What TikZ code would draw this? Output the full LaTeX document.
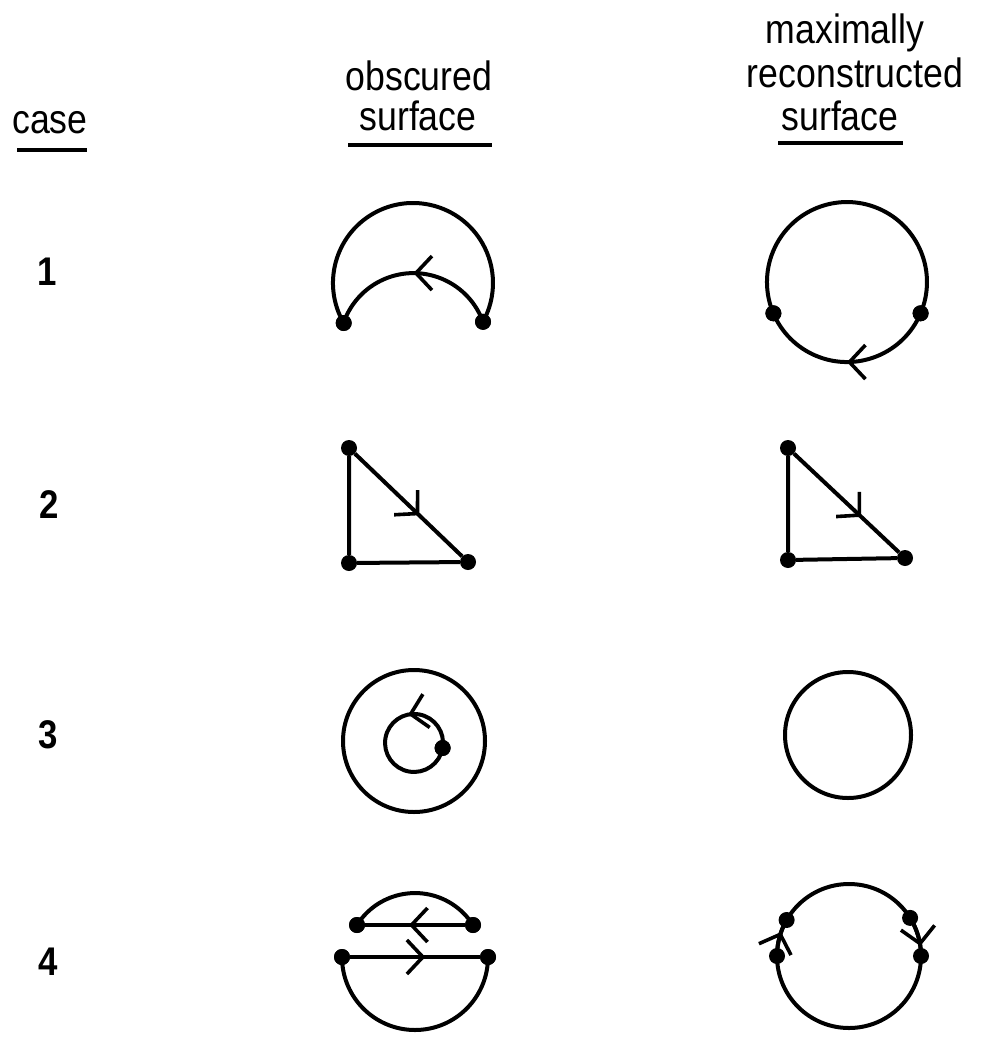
\documentclass[tikz,border=0pt]{standalone}
\usepackage{fontspec}
\setmainfont{Liberation Sans}[FakeStretch=0.87]
\usetikzlibrary{arrows.meta,decorations.markings}
\begin{document}
\begin{tikzpicture}[x=1pt,y=-1pt,
  every node/.style={font=\fontsize{41}{40}\selectfont},
  ln/.style={line width=4pt},
  blob/.style={circle,fill=black,inner sep=0pt,minimum size=16pt},
  hdr/.style={anchor=base,inner sep=0pt},
  num/.style={font=\fontsize{40}{40}\selectfont\bfseries},
  uline/.style={line width=3.6pt},
  midarrow/.style={postaction={decorate,decoration={markings,mark=at position #1 with {\arrow[line width=3.6pt]{Straight Barb[length=16pt,width=34pt]}}}}}
]
\useasboundingbox (0,0) rectangle (983,1041);

% headers
\node[hdr] (case) at (50,133) {case};
\node[hdr] (obs1) at (419,90) {obscured};
\node[hdr] (obs2) at (418,130) {surface};
\node[hdr] (rec1) at (845,44) {maximally};
\node[hdr] (rec2) at (855,88) {reconstructed};
\node[hdr] (rec3) at (840,130) {surface};
\draw[uline] (17,150) -- (87,150);
\draw[uline] (348,145) -- (492,145);
\draw[uline] (778,143) -- (903,143);

% row numbers
\node[num] (n1) at (47,272) {1};
\node[num] (n2) at (49,505) {2};
\node[num] (n3) at (48,735) {3};
\node[num] (n4) at (48,962) {4};

% case 1, obscured
\node[blob] (p1a) at (343.7,323) {};
\node[blob] (p1b) at (483,321.8) {};
\draw[ln] (p1a.center) arc[start angle=150, end angle=389, radius=80];
\draw[ln,midarrow=0.5] (p1b.center) arc[start angle=-20, end angle=-160, radius=74];
\node[blob] at (p1a) {};
\node[blob] at (p1b) {};

% case 1, reconstructed
\node[blob] (q1a) at (773.4,313.3) {};
\node[blob] (q1b) at (920.6,313.3) {};
\draw[ln] (q1b.center) arc[start angle=23, end angle=-203, radius=80];
\draw[ln,midarrow=0.5] (q1b.center) arc[start angle=23, end angle=157, radius=80];
\node[blob] at (q1a) {};
\node[blob] at (q1b) {};

% case 2, obscured
\node[blob] (p2a) at (349,448) {};
\node[blob] (p2b) at (349,563) {};
\node[blob] (p2c) at (468,562) {};
\draw[ln] (p2a) -- (p2b) -- (p2c);
\draw[ln,midarrow=0.6] (p2a) -- (p2c);

% case 2, reconstructed
\node[blob] (q2a) at (788,448) {};
\node[blob] (q2b) at (788,560) {};
\node[blob] (q2c) at (905,558) {};
\draw[ln] (q2a) -- (q2b) -- (q2c);
\draw[ln,midarrow=0.64] (q2a) -- (q2c);

% case 3, obscured
\coordinate (o3) at (414,741);
\draw[ln] (o3) circle[radius=71];
\node[blob] (p3a) at (442.6,748) {};
\draw[ln,midarrow=0.31] (p3a.center) arc[start angle=10, end angle=-350, radius=29];
\node[blob] at (p3a) {};

% case 3, reconstructed
\coordinate (r3) at (848,735);
\draw[ln] (r3) circle[radius=63];

% case 4, obscured
\node[blob] (u1) at (357,925) {};
\node[blob] (u2) at (473,925) {};
\node[blob] (l1) at (342,957) {};
\node[blob] (l2) at (488,957) {};
\draw[ln] (u1.center) arc[start angle=-147.7, end angle=-32.3, radius=68.6];
\draw[ln,midarrow=0.56] (u2) -- (u1);
\draw[ln,midarrow=0.58] (l1) -- (l2);
\draw[ln] (l1.center) arc[start angle=180, end angle=0, radius=73];
\node[blob] at (u1) {};
\node[blob] at (u2) {};
\node[blob] at (l1) {};
\node[blob] at (l2) {};

% case 4, reconstructed
\coordinate (r4) at (849,956);
\draw[ln] (r4) circle[radius=72];
\node[blob] (v1) at (786.6,920) {};
\node[blob] (v2) at (777,956) {};
\node[blob] (v3) at (910.1,917.9) {};
\node[blob] (v4) at (921,956) {};
\draw[ln,midarrow=0.65] (v2.center) arc[start angle=180, end angle=210, radius=72];
\draw[ln,midarrow=0.75] (v3.center) arc[start angle=-32, end angle=0, radius=72];
\end{tikzpicture}
\end{document}
